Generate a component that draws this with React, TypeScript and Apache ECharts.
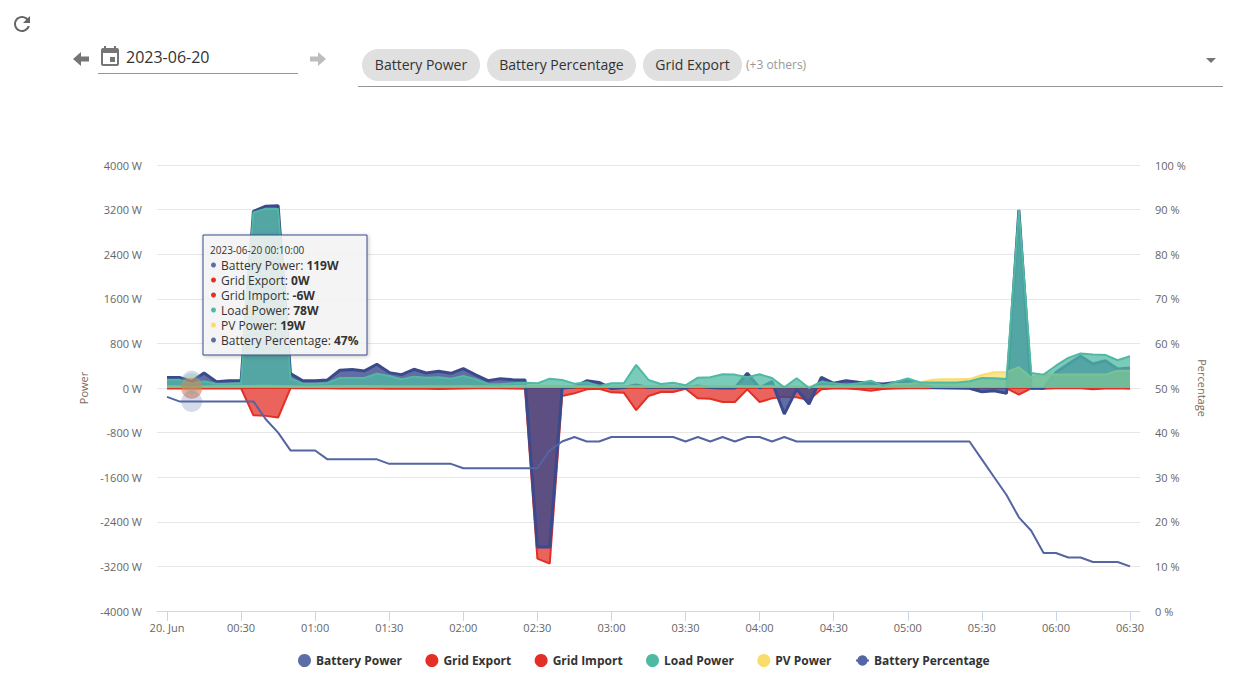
import React, { useEffect, useRef } from "react";
import * as echarts from "echarts";

const FONT = "'Open Sans', sans-serif";
const minutes: number[] = [0,5,10,15,20,25,30,35,40,45,50,55,60,65,70,75,80,85,90,95,100,105,110,115,120,125,130,135,140,145,150,155,160,165,170,175,180,185,190,195,200,205,210,215,220,225,230,235,240,245,250,255,260,265,270,275,280,285,290,295,300,305,310,315,320,325,330,335,340,345,350,355,360,365,370,375,380,385,390];
const batteryPower: number[] = [190,190,119,270,113,130,130,3170,3260,3270,258,130,130,145,318,330,306,426,276,240,336,270,300,264,348,234,132,168,150,144,-2850,-2850,0,20,130,100,-10,10,54,10,20,10,10,36,10,0,0,264,0,114,-468,-24,-288,192,84,132,102,84,70,100,130,60,10,5,0,-6,-66,-48,-96,3190,-6,-6,280,430,570,430,490,340,360];
const gridExport: number[] = [0,0,0,0,0,0,0,0,0,0,0,0,0,0,0,0,0,0,0,0,0,0,0,0,0,0,0,0,0,0,0,0,0,0,0,0,0,0,0,0,0,0,0,0,0,0,0,0,0,0,0,0,0,0,0,0,0,0,0,0,0,0,0,0,0,0,0,0,0,0,0,0,0,0,0,0,0,0,0];
const gridImport: number[] = [-10,-10,-6,-10,-10,-10,-5,-490,-500,-530,-5,-5,-5,-5,-8,-8,-10,-8,-15,-12,-10,-15,-20,-15,-8,-6,-5,-5,-8,-15,-3060,-3150,-144,-96,-24,-12,-78,-84,-396,-144,-72,-72,-12,-186,-192,-252,-252,-24,-252,-186,-156,-168,-216,-24,-10,-10,-24,-48,-20,-10,-5,-5,-5,-5,-5,-5,-5,-5,-5,-120,-6,-12,-6,-6,-6,-24,-10,-6,-15];
const loadPower: number[] = [150,150,78,120,78,78,90,3150,3215,3210,170,78,78,90,180,180,180,258,216,156,204,186,192,168,216,156,72,66,84,96,84,168,144,78,102,36,84,84,414,144,72,96,48,186,192,246,240,192,246,180,12,174,0,114,84,60,84,132,40,110,170,100,100,100,100,120,180,175,160,3200,270,240,400,540,618,600,594,498,570];
const pvPower: number[] = [30,25,19,25,30,30,35,35,40,35,30,25,25,30,30,35,35,30,30,30,30,30,30,30,35,30,30,30,35,40,40,40,35,30,30,30,30,30,30,35,30,30,25,30,35,35,35,30,30,30,25,30,25,30,30,30,30,30,40,70,70,100,150,156,156,160,234,282,282,372,190,240,240,240,240,240,240,310,310];
const batteryPercentage: number[] = [48,47,47,47,47,47,47,47,43,40,36,36,36,34,34,34,34,34,33,33,33,33,33,33,32,32,32,32,32,32,32,36,38,39,38,38,39,39,39,39,39,39,38,39,38,39,38,39,39,38,39,38,38,38,38,38,38,38,38,38,38,38,38,38,38,38,34,30,26,21,18,13,13,12,12,11,11,11,10];
const tickMinutes: number[] = [0,30,60,90,120,150,180,210,240,270,300,330,360,390];
const tickLabels: string[] = ["20. Jun","00:30","01:00","01:30","02:00","02:30","03:00","03:30","04:00","04:30","05:00","05:30","06:00","06:30"];
const chips: string[] = ["Battery Power", "Battery Percentage", "Grid Export"];
const legendNames: string[] = ["Battery Power","Grid Export","Grid Import","Load Power","PV Power","Battery Percentage"];
const tipTime = "2023-06-20 00:10:00";
const hoverIdx = 2;

const BLUE = "#3b4a8c", RED = "#e32f25", TEAL = "#4fb9a4", YEL = "#f9dc6a", LEGBLUE = "#5b6fa6";

function pair(v: number[]) { return v.map((y, i) => [minutes[i], y]); }
function area(name: string, data: number[], color: string, width: number, op: number, z: number) {
  return { name, type: "line", z, data: pair(data), yAxisIndex: 0, showSymbol: false, symbol: "circle", lineStyle: { color, width }, itemStyle: { color }, areaStyle: { color, opacity: op }, emphasis: { disabled: true } };
}
function halo(value: number, color: string, axis: number) {
  return { type: "scatter", z: 8, yAxisIndex: axis, symbolSize: 21, silent: true, itemStyle: { color, opacity: 0.25 }, data: [[minutes[hoverIdx], value]] };
}

export default function App() {
  const ref = useRef<HTMLDivElement>(null);
  useEffect(() => {
    const chart = echarts.init(ref.current!, null, { renderer: "svg" });
    const rows: [string, string, string][] = [
      ["Battery Power", `${batteryPower[hoverIdx]}W`, LEGBLUE],
      ["Grid Export", `${gridExport[hoverIdx]}W`, RED],
      ["Grid Import", `${gridImport[hoverIdx]}W`, RED],
      ["Load Power", `${loadPower[hoverIdx]}W`, TEAL],
      ["PV Power", `${pvPower[hoverIdx]}W`, YEL],
      ["Battery Percentage", `${batteryPercentage[hoverIdx]}%`, LEGBLUE],
    ];
    const tipChildren: any[] = [
      { type: "rect", x: 203, y: 235, z: 100, shape: { width: 164, height: 120 }, style: { fill: "rgba(247,247,247,0.85)", stroke: BLUE, lineWidth: 1, shadowBlur: 4, shadowColor: "rgba(0,0,0,0.25)", shadowOffsetX: 1, shadowOffsetY: 1 } },
      { type: "text", x: 210, y: 250, z: 101, style: { text: tipTime, fontFamily: FONT, fontSize: 10, fill: "#333", verticalAlign: "middle" } },
    ];
    rows.forEach((r, i) => {
      const y = 265 + i * 15;
      tipChildren.push({ type: "circle", z: 101, shape: { cx: 213.5, cy: y, r: 2.5 }, style: { fill: r[2] } });
      tipChildren.push({ type: "text", x: 221, y, z: 101, style: {
        text: `{a|${r[0]}: }{b|${r[1]}}`, verticalAlign: "middle",
        rich: { a: { fontFamily: FONT, fontSize: 12, fill: "#333" }, b: { fontFamily: FONT, fontSize: 12, fontWeight: "bold", fill: "#333" } },
      } });
    });
    chart.setOption({
      animation: false,
      textStyle: { fontFamily: FONT },
      grid: { left: 157, right: 111, top: 165, bottom: 68, containLabel: false },
      legend: {
        left: 293, top: 649, itemWidth: 13, itemHeight: 13, itemGap: 23.4,
        textStyle: { fontFamily: FONT, fontSize: 12, fontWeight: "bold", color: "#333" },
        data: legendNames.map((n, i) => i === 5
          ? { name: n }
          : { name: n, icon: "circle", itemStyle: { color: i === 0 ? LEGBLUE : undefined } }),
      },
      xAxis: {
        type: "value", min: -4.05, max: 394.05,
        splitLine: { show: false },
        axisLine: { onZero: false, lineStyle: { color: "#ccd6eb" } },
        axisTick: { length: 10, lineStyle: { color: "#ccd6eb" }, customValues: tickMinutes },
        axisLabel: {
          color: "#666", fontSize: 11, margin: 11, fontFamily: FONT, showMinLabel: true, showMaxLabel: true, hideOverlap: false,
          customValues: tickMinutes,
          formatter: (v: number) => tickLabels[tickMinutes.indexOf(v)] ?? "",
        },
      },
      yAxis: [
        {
          type: "value", min: -4000, max: 4000, interval: 800, name: "Power", nameLocation: "middle", nameGap: 68, nameRotate: 90,
          nameTextStyle: { color: "#7a6a5c", fontSize: 11, fontFamily: FONT },
          splitLine: { lineStyle: { color: "#e6e6e6" } }, axisLine: { show: false }, axisTick: { show: false },
          axisLabel: { color: "#666", fontSize: 11, margin: 15, fontFamily: FONT, formatter: (v: number) => `${v} W` },
        },
        {
          type: "value", min: 0, max: 100, interval: 10, position: "right", name: "Percentage", nameLocation: "middle", nameGap: 56, nameRotate: -90,
          nameTextStyle: { color: "#7a6a5c", fontSize: 11, fontFamily: FONT },
          splitLine: { show: false }, axisLine: { show: false }, axisTick: { show: false },
          axisLabel: { color: "#666", fontSize: 11, margin: 15, fontFamily: FONT, formatter: (v: number) => `${v} %` },
        },
      ],
      series: [
        area("Grid Export", gridExport, RED, 2, 0.75, 2),
        area("Grid Import", gridImport, RED, 2, 0.75, 3),
        area("Battery Power", batteryPower, BLUE, 3, 0.8, 4),
        area("PV Power", pvPower, YEL, 2, 0.75, 5),
        area("Load Power", loadPower, TEAL, 2, 0.75, 6),
        { name: "Battery Percentage", type: "line", z: 7, yAxisIndex: 1, data: pair(batteryPercentage), showSymbol: false, symbol: "circle", symbolSize: 6, lineStyle: { color: "#5365a2", width: 2 }, itemStyle: { color: "#5365a2" }, emphasis: { disabled: true } },
        halo(batteryPower[hoverIdx], LEGBLUE, 0),
        halo(gridExport[hoverIdx], RED, 0),
        halo(gridImport[hoverIdx], RED, 0),
        halo(loadPower[hoverIdx], TEAL, 0),
        halo(pvPower[hoverIdx], YEL, 0),
        halo(batteryPercentage[hoverIdx], LEGBLUE, 1),
      ],
      graphic: { elements: [{ type: "group", z: 100, children: tipChildren }] },
    });
    return () => chart.dispose();
  }, []);

  const abs = (left: number, top: number, extra: React.CSSProperties = {}): React.CSSProperties => ({ position: "absolute", left, top, ...extra });
  const chipPos = [[362, 118], [487, 149], [643, 99]];
  return (
    <div style={{ position: "absolute", left: 0, top: 0, width: 1251, height: 679, background: "#fff", fontFamily: FONT, overflow: "hidden" }}>
      <div ref={ref} style={{ position: "absolute", left: 0, top: 0, width: 1251, height: 679 }} />
      <svg style={abs(10, 12)} width={24} height={24} viewBox="0 0 24 24"><path fill="#666" d="M17.65 6.35C16.2 4.9 14.21 4 12 4c-4.42 0-7.99 3.58-7.99 8s3.57 8 7.99 8c3.73 0 6.84-2.55 7.73-6h-2.08c-.82 2.33-3.04 4-5.65 4-3.31 0-6-2.69-6-6s2.69-6 6-6c1.66 0 3.14.69 4.22 1.78L13 11h7V4l-2.35 2.35z" /></svg>
      <svg style={abs(70, 48)} width={24} height={24} viewBox="0 0 24 24"><path fill="#757575" d="M19 8.5h-8V4L3 11l8 7v-4.5h8z" /></svg>
      <svg style={abs(98, 45)} width={24} height={24} viewBox="0 0 24 24"><path fill="#757575" d="M17 12h-5v5h5v-5zM16 1v2H8V1H6v2H5c-1.11 0-1.99.9-1.99 2L3 19c0 1.1.89 2 2 2h14c1.1 0 2-.9 2-2V5c0-1.1-.9-2-2-2h-1V1h-2zm3 18H5V8h14v11z" /></svg>
      <div style={abs(126, 46, { fontSize: 16, lineHeight: "22px", color: "#333" })}>2023-06-20</div>
      <div style={abs(98, 73, { width: 200, height: 1, background: "#949494" })} />
      <svg style={abs(305, 48)} width={24} height={24} viewBox="0 0 24 24"><path fill="#bdbdbd" d="M5 8.5h8V4l8 7-8 7v-4.5H5z" /></svg>
      {chips.map((c, i) => (
        <div key={c} style={abs(chipPos[i][0], 49, { width: chipPos[i][1], height: 32, borderRadius: 16, background: "#e0e0e0", fontSize: 14, lineHeight: "32px", textAlign: "center", color: "#333" })}>{c}</div>
      ))}
      <div style={abs(746, 57, { fontSize: 12, lineHeight: "16px", color: "#999" })}>(+3 others)</div>
      <svg style={abs(1206, 58)} width={10} height={5} viewBox="0 0 10 5"><path fill="#757575" d="M0 0h10L5 5z" /></svg>
      <div style={abs(358, 86, { width: 865, height: 1, background: "#949494" })} />
    </div>
  );
}
